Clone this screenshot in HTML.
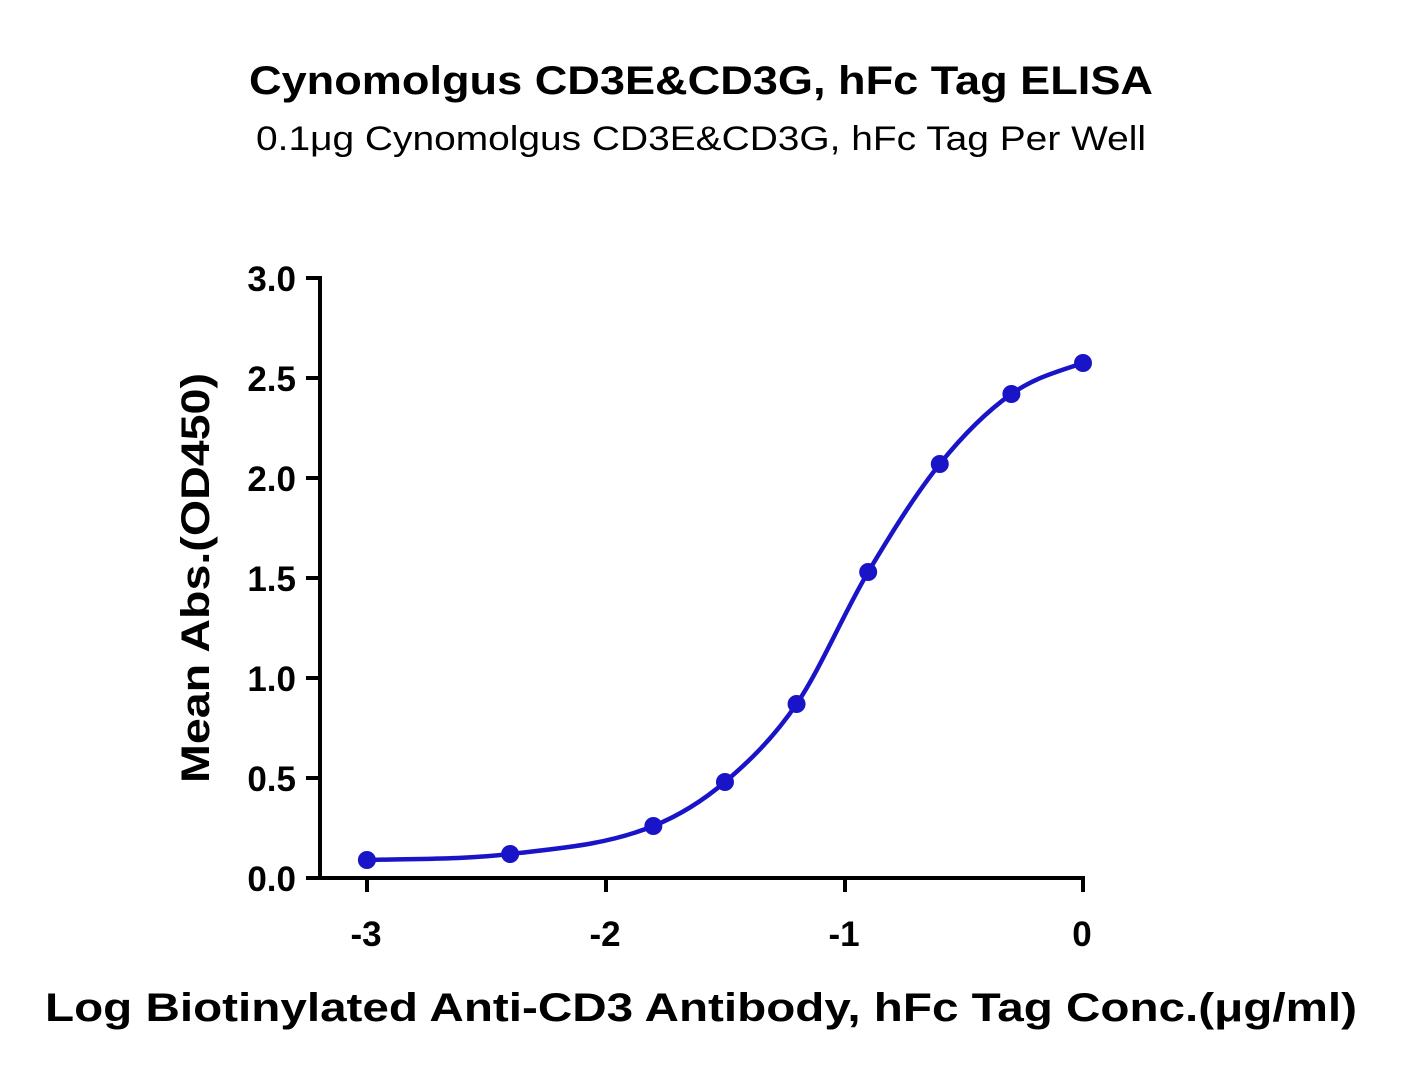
<!DOCTYPE html>
<html><head><meta charset="utf-8"><style>
html,body{margin:0;padding:0;background:#fff;}
svg{display:block;font-family:"Liberation Sans",sans-serif;}
</style></head><body>
<svg id="s" width="1402" height="1077" viewBox="0 0 1402 1077" xmlns="http://www.w3.org/2000/svg">
<text x="701" y="94" text-anchor="middle" font-size="40" font-weight="bold" textLength="904" lengthAdjust="spacingAndGlyphs">Cynomolgus CD3E&amp;CD3G, hFc Tag ELISA</text>
<text x="701" y="150" text-anchor="middle" font-size="34" textLength="890" lengthAdjust="spacingAndGlyphs">0.1μg Cynomolgus CD3E&amp;CD3G, hFc Tag Per Well</text>
<g stroke="#000" stroke-width="4" fill="none">
<line x1="320" y1="276" x2="320" y2="880"/>
<line x1="318" y1="878" x2="1085" y2="878"/>
<line x1="306" y1="278" x2="320" y2="278"/>
<line x1="306" y1="378" x2="320" y2="378"/>
<line x1="306" y1="478" x2="320" y2="478"/>
<line x1="306" y1="578" x2="320" y2="578"/>
<line x1="306" y1="678" x2="320" y2="678"/>
<line x1="306" y1="778" x2="320" y2="778"/>
<line x1="306" y1="878" x2="320" y2="878"/>
<line x1="367" y1="878" x2="367" y2="892"/>
<line x1="606" y1="878" x2="606" y2="892"/>
<line x1="845" y1="878" x2="845" y2="892"/>
<line x1="1083" y1="878" x2="1083" y2="892"/>
</g>
<g font-size="35" font-weight="bold" text-anchor="end">
<text x="296" y="291">3.0</text><text x="296" y="391">2.5</text><text x="296" y="491">2.0</text>
<text x="296" y="591">1.5</text><text x="296" y="691">1.0</text><text x="296" y="791">0.5</text><text x="296" y="891">0.0</text>
</g>
<g font-size="35" font-weight="bold" text-anchor="middle">
<text x="366" y="946">-3</text><text x="605" y="946">-2</text><text x="844" y="946">-1</text><text x="1082" y="946">0</text>
</g>
<text transform="translate(209,578) rotate(-90)" text-anchor="middle" font-size="40" font-weight="bold" textLength="410" lengthAdjust="spacingAndGlyphs">Mean Abs.(OD450)</text>
<text x="701" y="1021" text-anchor="middle" font-size="40" font-weight="bold" textLength="1312" lengthAdjust="spacingAndGlyphs">Log Biotinylated Anti-CD3 Antibody, hFc Tag Conc.(μg/ml)</text>
<path id="c" fill="none" stroke="#1a14c8" stroke-width="4.5"/>
<g id="p" fill="#1a14c8"></g>
</svg>
<script>
function X(l){return 1083+l*238.7;}
function Y(v){return 878-v*200;}
var pts=[[-3,0.09],[-2.4,0.12],[-1.8,0.26],[-1.5,0.48],[-1.2,0.87],[-0.9,1.53],[-0.6,2.07],[-0.3,2.42],[0,2.575]];
var P=pts.map(function(p){return [X(p[0]),Y(p[1])];});
var n=P.length,dk=[],m=[];
for(var i=0;i<n-1;i++)dk.push((P[i+1][1]-P[i][1])/(P[i+1][0]-P[i][0]));
for(var i=0;i<n;i++){if(i==0)m.push(dk[0]*0.7);else if(i==n-1)m.push(dk[n-2]*0.8);else m.push((dk[i-1]+dk[i])/2);}
var d="M"+P[0][0]+","+P[0][1];
for(var i=0;i<n-1;i++){var h=(P[i+1][0]-P[i][0])/3;
d+="C"+(P[i][0]+h)+","+(P[i][1]+m[i]*h)+" "+(P[i+1][0]-h)+","+(P[i+1][1]-m[i+1]*h)+" "+P[i+1][0]+","+P[i+1][1];}
document.getElementById("c").setAttribute("d",d);
var g=document.getElementById("p");
P.forEach(function(p){var c=document.createElementNS("http://www.w3.org/2000/svg","circle");c.setAttribute("cx",p[0]);c.setAttribute("cy",p[1]);c.setAttribute("r",9);g.appendChild(c);});
</script>
</body></html>
